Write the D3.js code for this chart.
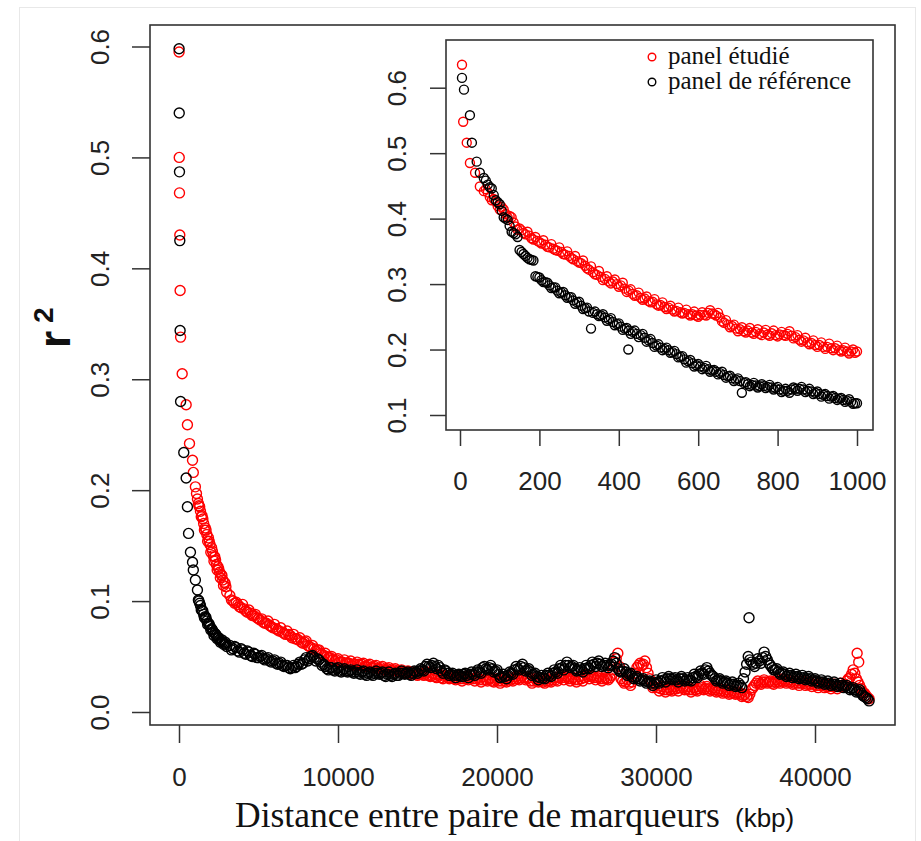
<!DOCTYPE html>
<html>
<head>
<meta charset="utf-8">
<script src="https://cdnjs.cloudflare.com/ajax/libs/d3/7.8.5/d3.min.js"></script>
<style>
body { margin: 0; background: #fff; }
svg { display: block; }
</style>
</head>
<body>
<script>
// main plot : distance between markers (kbp) and mean r2, one x list shared by both panels
var distMain = [
	5, 15, 30, 50, 70, 100, 200, 300, 450, 530, 600, 660, 720, 850, 900, 1030, 1100, 1160, 1220, 1300,
	1400, 1500, 1600, 1700, 1800, 1900, 2000, 2100, 2200, 2300, 2400, 2500, 2600, 2700, 2800, 2900, 3000,
	3200, 3400, 3600, 3800, 4000, 4200, 4400, 4600, 4800, 5000,
	5200, 5400, 5600, 5800, 6000, 6200, 6400, 6600, 6800, 7000,
	7200, 7400, 7600, 7800, 8000, 8200, 8400, 8600, 8800, 9000,
	9200, 9400, 9600, 9800, 10000, 10200, 10400, 10600, 10800, 11000,
	11200, 11400, 11600, 11800, 12000, 12200, 12400, 12600, 12800, 13000,
	13200, 13400, 13600, 13800, 14000, 14200, 14400, 14600, 14800, 15000,
	15200, 15400, 15600, 15800, 16000, 16200, 16400, 16600, 16800, 17000,
	17200, 17400, 17600, 17800, 18000, 18200, 18400, 18600, 18800, 19000,
	19200, 19400, 19600, 19800, 20000, 20200, 20400, 20600, 20800, 21000,
	21200, 21400, 21600, 21800, 22000, 22200, 22400, 22600, 22800, 23000,
	23200, 23400, 23600, 23800, 24000, 24200, 24400, 24600, 24800, 25000,
	25200, 25400, 25600, 25800, 26000, 26200, 26400, 26600, 26800, 27000,
	27200, 27400, 27600, 27800, 28000, 28200, 28400, 28600, 28800, 29000,
	29200, 29400, 29600, 29800, 30000, 30200, 30400, 30600, 30800, 31000,
	31200, 31400, 31600, 31800, 32000, 32200, 32400, 32600, 32800, 33000,
	33200, 33400, 33600, 33800, 34000, 34200, 34400, 34600, 34800, 35000,
	35200, 35400, 35600, 35800, 36000, 36200, 36400, 36600, 36800, 37000,
	37200, 37400, 37600, 37800, 38000, 38200, 38400, 38600, 38800, 39000,
	39200, 39400, 39600, 39800, 40000, 40200, 40400, 40600, 40800, 41000,
	41200, 41400, 41600, 41800, 42000, 42200, 42400, 42600, 42800, 43000,
	43200, 43400,
	35850, 42650, 42750,
	1250, 1350, 1450, 1550, 1650, 1750, 1850, 1950, 2050, 2150, 2250, 2350, 2450, 2550, 2650, 2750, 2850, 2950,
	3300, 3500, 3700, 3900, 4100, 4300, 4500, 4700, 4900, 5100,
	5300, 5500, 5700, 5900, 6100, 6300, 6500, 6700, 6900, 7100,
	7300, 7500, 7700, 7900, 8100, 8300, 8500, 8700, 8900, 9100,
	9300, 9500, 9700, 9900, 10100, 10300, 10500, 10700, 10900, 11100,
	11300, 11500, 11700, 11900, 12100, 12300, 12500, 12700, 12900, 13100,
	13300, 13500, 13700, 13900, 14100, 14300, 14500, 14700, 14900, 15100,
	15300, 15500, 15700, 15900, 16100, 16300, 16500, 16700, 16900, 17100,
	17300, 17500, 17700, 17900, 18100, 18300, 18500, 18700, 18900, 19100,
	19300, 19500, 19700, 19900, 20100, 20300, 20500, 20700, 20900, 21100,
	21300, 21500, 21700, 21900, 22100, 22300, 22500, 22700, 22900, 23100,
	23300, 23500, 23700, 23900, 24100, 24300, 24500, 24700, 24900, 25100,
	25300, 25500, 25700, 25900, 26100, 26300, 26500, 26700, 26900, 27100,
	27300, 27500, 27700, 27900, 28100, 28300, 28500, 28700, 28900, 29100,
	29300, 29500, 29700, 29900, 30100, 30300, 30500, 30700, 30900, 31100,
	31300, 31500, 31700, 31900, 32100, 32300, 32500, 32700, 32900, 33100,
	33300, 33500, 33700, 33900, 34100, 34300, 34500, 34700, 34900, 35100,
	35300, 35500, 35700, 35900, 36100, 36300, 36500, 36700, 36900, 37100,
	37300, 37500, 37700, 37900, 38100, 38300, 38500, 38700, 38900, 39100,
	39300, 39500, 39700, 39900, 40100, 40300, 40500, 40700, 40900, 41100,
	41300, 41500, 41700, 41900, 42100, 42300, 42500, 42700, 42900, 43100,
	43300
];
var r2EtudieMain = [
	.595, .500, .468, .430, .380, .338, .305, null, .277, .259, null, .242, null, .227, .216, .203, .197, .192, .188, .185,
	.176, .174, .164, .164, .154, .154, .144, .145, .136, .137, .128, .129, .121, .123, .114, .116, .108,
	.105, .100, .099, .095, .097, .091, .092, .087, .088, .084,
	.084, .080, .082, .077, .079, .074, .076, .071, .073, .069,
	.070, .066, .067, .062, .064, .059, .060, .055, .056, .052,
	.053, .049, .050, .046, .048, .045, .047, .044, .046, .043,
	.045, .042, .044, .041, .043, .040, .042, .039, .041, .038,
	.040, .037, .039, .036, .038, .035, .037, .034, .036, .033,
	.035, .033, .036, .032, .035, .031, .034, .030, .033, .030,
	.033, .029, .032, .028, .032, .029, .033, .028, .031, .027,
	.032, .028, .031, .027, .030, .026, .030, .027, .031, .028,
	.032, .029, .033, .029, .031, .026, .030, .027, .029, .026,
	.030, .027, .031, .028, .033, .029, .032, .028, .031, .027,
	.032, .028, .034, .030, .033, .029, .032, .028, .031, .029,
	.033, .045, .053, .030, .026, .029, .024, .030, .040, .044,
	.043, .040, .030, .022, .025, .019, .023, .018, .022, .019,
	.023, .019, .024, .020, .023, .018, .022, .019, .024, .020,
	.023, .019, .022, .018, .021, .017, .020, .016, .019, .016,
	.018, .014, .016, .013, .020, .024, .028, .025, .029, .026,
	.028, .025, .029, .026, .030, .026, .029, .025, .028, .024,
	.028, .024, .027, .023, .027, .022, .026, .022, .025, .021,
	.025, .021, .026, .023, .028, .031, .038, .030, .024, .018,
	.015, .012,
	null, .053, .045,
	.186, .181, .177, .170, .166, .160, .157, .151, .148, .141, .140, .133, .131, .126, .124, .119, .117, .113,
	.101, .098, .097, .094, .093, .090, .089, .087, .085, .083,
	.081, .080, .078, .076, .075, .073, .072, .070, .070, .067,
	.066, .065, .063, .063, .060, .058, .057, .056, .053, .051,
	.050, .049, .047, .047, .045, .045, .044, .044, .042, .043,
	.043, .043, .041, .042, .040, .041, .039, .040, .038, .039,
	.038, .038, .037, .037, .036, .036, .035, .035, .034, .034,
	.034, .034, .033, .033, .032, .033, .031, .032, .031, .031,
	.030, .031, .030, .030, .030, .031, .030, .030, .029, .029,
	.029, .030, .028, .029, .028, .028, .028, .029, .029, .030,
	.030, .031, .031, .030, .028, .028, .028, .028, .027, .028,
	.028, .029, .029, .031, .031, .031, .030, .030, .029, .029,
	.030, .031, .032, .032, .031, .031, .030, .030, .030, .031,
	.038, .048, .041, .028, .027, .026, .027, .035, .042, .042,
	.046, .035, .026, .023, .022, .021, .020, .020, .020, .021,
	.021, .022, .022, .021, .020, .020, .020, .021, .022, .021,
	.021, .020, .020, .019, .019, .018, .018, .017, .017, .017,
	.016, .015, .014, .016, .022, .026, .026, .027, .027, .027,
	.026, .027, .027, .028, .028, .027, .027, .026, .026, .026,
	.026, .025, .025, .025, .024, .024, .024, .023, .023, .023,
	.023, .023, .024, .025, .030, .034, .035, .027, .021, .017,
	.013
];
var r2RefMain = [
	.598, .540, .487, .425, .344, .280, null, .234, .211, .185, .161, null, .144, .135, .128, .119, null, .110, .101, .098,
	.092, .091, .085, .085, .079, .079, .074, .074, .069, .070, .066, .067, .063, .065, .061, .063, .059,
	.060, .057, .058, .054, .056, .052, .054, .050, .052, .049,
	.051, .047, .049, .045, .047, .043, .045, .041, .042, .039,
	.042, .041, .045, .044, .049, .048, .051, .046, .047, .042,
	.041, .038, .040, .037, .040, .036, .039, .036, .038, .035,
	.038, .034, .037, .033, .036, .033, .037, .034, .036, .032,
	.036, .032, .035, .033, .037, .034, .036, .033, .037, .035,
	.039, .037, .043, .040, .044, .039, .040, .035, .037, .033,
	.035, .031, .034, .032, .035, .031, .036, .033, .038, .035,
	.041, .038, .042, .036, .038, .031, .034, .030, .036, .034,
	.041, .038, .043, .037, .039, .033, .035, .029, .033, .030,
	.035, .032, .038, .035, .042, .038, .045, .040, .042, .037,
	.040, .036, .042, .039, .045, .041, .046, .041, .044, .040,
	.043, .049, .039, .036, .039, .033, .035, .030, .032, .028,
	.030, .026, .028, .024, .029, .026, .031, .027, .032, .029,
	.031, .027, .032, .028, .031, .028, .034, .031, .037, .034,
	.040, .035, .032, .028, .030, .026, .028, .024, .027, .023,
	.026, .022, .036, .050, .045, .041, .048, .044, .054, .047,
	.042, .038, .039, .034, .036, .032, .035, .031, .034, .030,
	.033, .029, .032, .028, .030, .026, .029, .025, .028, .024,
	.027, .023, .026, .022, .024, .020, .022, .018, .020, .015,
	.013, .010,
	.085, null, null,
	.100, .096, .092, .088, .086, .082, .080, .077, .075, .072, .071, .069, .067, .065, .064, .063, .062, .061,
	.056, .059, .055, .057, .053, .055, .051, .053, .049, .050,
	.048, .048, .046, .046, .044, .044, .042, .042, .040, .040,
	.040, .043, .043, .047, .046, .050, .049, .048, .045, .043,
	.039, .040, .038, .039, .037, .038, .037, .037, .036, .036,
	.035, .036, .034, .035, .034, .035, .035, .035, .033, .034,
	.033, .034, .033, .035, .035, .035, .034, .035, .036, .037,
	.038, .041, .041, .042, .041, .042, .037, .038, .035, .034,
	.033, .033, .033, .034, .033, .034, .034, .036, .036, .040,
	.039, .040, .039, .037, .034, .032, .032, .033, .035, .038,
	.039, .041, .040, .038, .036, .034, .032, .031, .031, .033,
	.033, .035, .036, .039, .040, .042, .042, .041, .039, .038,
	.038, .039, .040, .042, .043, .044, .043, .042, .042, .042,
	.046, .044, .037, .037, .036, .034, .032, .031, .030, .029,
	.028, .027, .026, .026, .027, .028, .029, .030, .030, .030,
	.029, .030, .030, .029, .029, .031, .032, .034, .035, .038,
	.037, .033, .030, .029, .028, .027, .026, .025, .025, .024,
	.024, .030, .043, .047, .043, .044, .046, .049, .050, .044,
	.040, .038, .036, .035, .034, .033, .033, .032, .032, .031,
	.031, .030, .030, .029, .028, .027, .027, .026, .026, .025,
	.025, .024, .024, .023, .022, .021, .020, .019, .017, .014,
	.012
];

// inset : first 1000 kbp
var distInset = [
	5, 8, 10, 17, 25, 30, 38, 42, 50,
	60, 70, 80, 90, 100, 110, 120, 130, 140, 150,
	160, 170, 180, 190, 200, 210, 220, 230, 240, 250,
	260, 270, 280, 290, 300, 310, 320, 330, 340, 350,
	360, 370, 380, 390, 400, 410, 420, 430, 440, 450,
	460, 470, 480, 490, 500, 510, 520, 530, 540, 550,
	560, 570, 580, 590, 600, 610, 620, 630, 640, 650,
	660, 670, 680, 690, 700, 710, 720, 730, 740, 750,
	760, 770, 780, 790, 800, 810, 820, 830, 840, 850,
	860, 870, 880, 890, 900, 910, 920, 930, 940, 950,
	960, 970, 980, 990, 1000,
	424,
	65, 75, 85, 95, 105, 115, 125, 135, 145, 155,
	165, 175, 185, 195, 205, 215, 225, 235, 245, 255,
	265, 275, 285, 295, 305, 315, 325, 335, 345, 355,
	365, 375, 385, 395, 405, 415, 425, 435, 445, 455,
	465, 475, 485, 495, 505, 515, 525, 535, 545, 555,
	565, 575, 585, 595, 605, 615, 625, 635, 645, 655,
	665, 675, 685, 695, 705, 715, 725, 735, 745, 755,
	765, 775, 785, 795, 805, 815, 825, 835, 845, 855,
	865, 875, 885, 895, 905, 915, 925, 935, 945, 955,
	965, 975, 985, 995
];
var r2EtudieInset = [
	.635, .548, null, .516, .485, null, .470, null, .449,
	.442, .440, .428, .426, .414, .414, .402, .402, .388, .385,
	.378, .380, .370, .372, .364, .367, .357, .361, .352, .356,
	.346, .350, .340, .343, .333, .336, .324, .327, .315, .320,
	.306, .312, .301, .307, .296, .302, .288, .292, .282, .287,
	.276, .281, .272, .277, .267, .272, .262, .267, .258, .264,
	.255, .261, .252, .258, .250, .257, .252, .260, .254, .256,
	.243, .245, .234, .238, .228, .234, .226, .233, .224, .231,
	.222, .230, .221, .229, .220, .227, .221, .228, .217, .222,
	.212, .218, .208, .214, .204, .211, .201, .209, .199, .206,
	.197, .203, .194, .200, .197,
	null,
	.445, .433, .430, .419, .418, .407, .404, .394, .383, .382,
	.376, .374, .368, .366, .362, .360, .356, .354, .351, .349,
	.345, .343, .338, .335, .332, .328, .322, .318, .314, .311,
	.308, .304, .304, .300, .298, .293, .290, .285, .283, .279,
	.278, .274, .273, .269, .268, .265, .264, .261, .259, .257,
	.256, .254, .254, .252, .253, .253, .256, .255, .252, .249,
	.241, .238, .236, .232, .231, .228, .229, .226, .227, .224,
	.226, .223, .225, .222, .223, .222, .224, .221, .219, .215,
	.214, .211, .210, .207, .207, .204, .204, .202, .202, .199,
	.199, .197, .197, .195
];
var r2RefInset = [
	.615, null, .597, null, .558, .516, null, .487, .470,
	.462, .452, .446, .428, .422, .402, .398, .380, .376, .352,
	.346, .340, .337, .312, .310, .303, .302, .294, .295, .286,
	.288, .279, .280, .270, .273, .262, .264, .232, .258, .251,
	.254, .244, .248, .237, .240, .230, .233, .224, .229, .219,
	.224, .212, .216, .204, .208, .199, .203, .195, .198, .188,
	.190, .180, .184, .174, .178, .170, .175, .166, .169, .162,
	.166, .157, .160, .152, .156, .134, .150, .144, .149, .142,
	.147, .141, .146, .139, .143, .135, .140, .134, .142, .137,
	.143, .135, .140, .132, .136, .128, .132, .125, .129, .123,
	.126, .120, .124, .117, .118,
	.200,
	.458, .448, .436, .425, .412, .400, .389, .378, .372, .349,
	.343, .338, .336, .311, .306, .303, .298, .295, .290, .287,
	.283, .280, .275, .272, .267, .263, .258, .256, .254, .252,
	.249, .246, .242, .239, .235, .232, .229, .227, .224, .222,
	.218, .214, .210, .206, .203, .201, .199, .196, .193, .189,
	.185, .182, .179, .176, .174, .172, .170, .168, .166, .164,
	.161, .159, .156, .154, .152, .149, .147, .146, .145, .144,
	.144, .143, .142, .141, .139, .137, .137, .139, .140, .140,
	.139, .137, .136, .134, .132, .131, .129, .128, .126, .125,
	.123, .122, .120, .118
];

var mainXTicks = [0, 10000, 20000, 30000, 40000];
var mainYTicks = [0, 0.1, 0.2, 0.3, 0.4, 0.5, 0.6];
var insetXTicks = [0, 200, 400, 600, 800, 1000];
var insetYTicks = [0.1, 0.2, 0.3, 0.4, 0.5, 0.6];
var legendLabels = ['panel étudié', 'panel de référence'];
var seriesColors = ['#ff0000', '#000000'];

var W = 921, H = 841;
var tickFont = "'Liberation Sans', Arial, sans-serif";
var serifFont = "'Liberation Serif', 'Times New Roman', serif";

var svg = d3.select('body').append('svg')
	.attr('width', W)
	.attr('height', H);

svg.append('rect')
	.attr('x', 19.5).attr('y', 7.5)
	.attr('width', 896).attr('height', 840)
	.attr('fill', '#fff')
	.attr('stroke', '#e8e8e8');

function toPoints(xs, ys) {
	return xs.map(function(x, i) {
		return [x, ys[i]];
	}).filter(function(d) {
		return d[1] != null;
	});
}

function drawPanel(opt) {
	var g = svg.append('g');

	g.append('rect')
		.attr('x', opt.box[0]).attr('y', opt.box[1])
		.attr('width', opt.box[2] - opt.box[0])
		.attr('height', opt.box[3] - opt.box[1])
		.attr('fill', '#fff');

	var series = [toPoints(opt.xs, opt.red), toPoints(opt.xs, opt.black)];
	series.forEach(function(pts, k) {
		g.append('g').selectAll('circle')
			.data(pts)
			.enter()
			.append('circle')
			.attr('cx', function(d) { return opt.x(d[0]); })
			.attr('cy', function(d) { return opt.y(d[1]); })
			.attr('r', opt.r)
			.attr('fill', 'none')
			.attr('stroke', seriesColors[k])
			.attr('stroke-width', 1.4);
	});

	g.append('rect')
		.attr('x', opt.box[0]).attr('y', opt.box[1])
		.attr('width', opt.box[2] - opt.box[0])
		.attr('height', opt.box[3] - opt.box[1])
		.attr('fill', 'none')
		.attr('stroke', '#333')
		.attr('stroke-width', 1.6);

	var xAxis = g.append('g')
		.attr('transform', 'translate(0,' + opt.box[3] + ')')
		.call(d3.axisBottom(opt.x).tickValues(opt.xTicks).tickSize(opt.tick).tickPadding(opt.xPad).tickFormat(d3.format('d')));

	var yAxis = g.append('g')
		.attr('transform', 'translate(' + opt.box[0] + ',0)')
		.call(d3.axisLeft(opt.y).tickValues(opt.yTicks).tickSize(opt.tick).tickFormat(d3.format('.1f')));

	[xAxis, yAxis].forEach(function(a) {
		a.select('.domain').remove();
		a.selectAll('line').attr('stroke', '#333').attr('stroke-width', 1.5);
		a.selectAll('text')
			.attr('fill', '#222')
			.style('font-family', tickFont)
			.style('font-size', '26px');
	});

	yAxis.selectAll('text')
		.attr('transform', 'rotate(-90)')
		.attr('x', 0)
		.attr('y', -opt.yLab)
		.attr('dy', '0.35em')
		.style('text-anchor', 'middle');

	return g;
}

var mainX = d3.scaleLinear().domain([0, 40000]).range([179, 815]);
var mainY = d3.scaleLinear().domain([0, 0.6]).range([712, 46.5]);

drawPanel({
	box: [150, 25, 895, 725],
	x: mainX, y: mainY,
	xs: distMain, red: r2EtudieMain, black: r2RefMain,
	xTicks: mainXTicks, yTicks: mainYTicks,
	r: 5, tick: 18, xPad: 25, yLab: 50
});

var insetX = d3.scaleLinear().domain([0, 1000]).range([460, 857]);
var insetY = d3.scaleLinear().domain([0.1, 0.6]).range([415, 87.7]);

var inset = drawPanel({
	box: [446, 40, 873, 430],
	x: insetX, y: insetY,
	xs: distInset, red: r2EtudieInset, black: r2RefInset,
	xTicks: insetXTicks, yTicks: insetYTicks,
	r: 4.5, tick: 16, xPad: 26, yLab: 49
});

// legend
var legend = inset.append('g');
legendLabels.forEach(function(label, i) {
	legend.append('circle')
		.attr('cx', 652)
		.attr('cy', 57 + i * 25)
		.attr('r', 3.8)
		.attr('fill', 'none')
		.attr('stroke', seriesColors[i])
		.attr('stroke-width', 1.4);
	legend.append('text')
		.attr('x', 668)
		.attr('y', 64 + i * 25)
		.attr('fill', '#111')
		.style('font-family', serifFont)
		.style('font-size', '25px')
		.text(label);
});

// axis titles
var xTitle = svg.append('text')
	.attr('x', 235)
	.attr('y', 827)
	.attr('fill', '#111');
xTitle.append('tspan')
	.style('font-family', serifFont)
	.style('font-size', '35.5px')
	.text('Distance entre paire de marqueurs');
xTitle.append('tspan')
	.attr('x', 735)
	.style('font-family', tickFont)
	.style('font-size', '26px')
	.text('(kbp)');

var yTitle = svg.append('text')
	.attr('transform', 'translate(70,348) rotate(-90)')
	.attr('fill', '#111')
	.style('font-family', tickFont)
	.style('font-weight', 'bold');
yTitle.append('tspan')
	.style('font-size', '44px')
	.text('r');
yTitle.append('tspan')
	.attr('dx', 8)
	.attr('dy', -17)
	.style('font-size', '28px')
	.text('2');
</script>
</body>
</html>
